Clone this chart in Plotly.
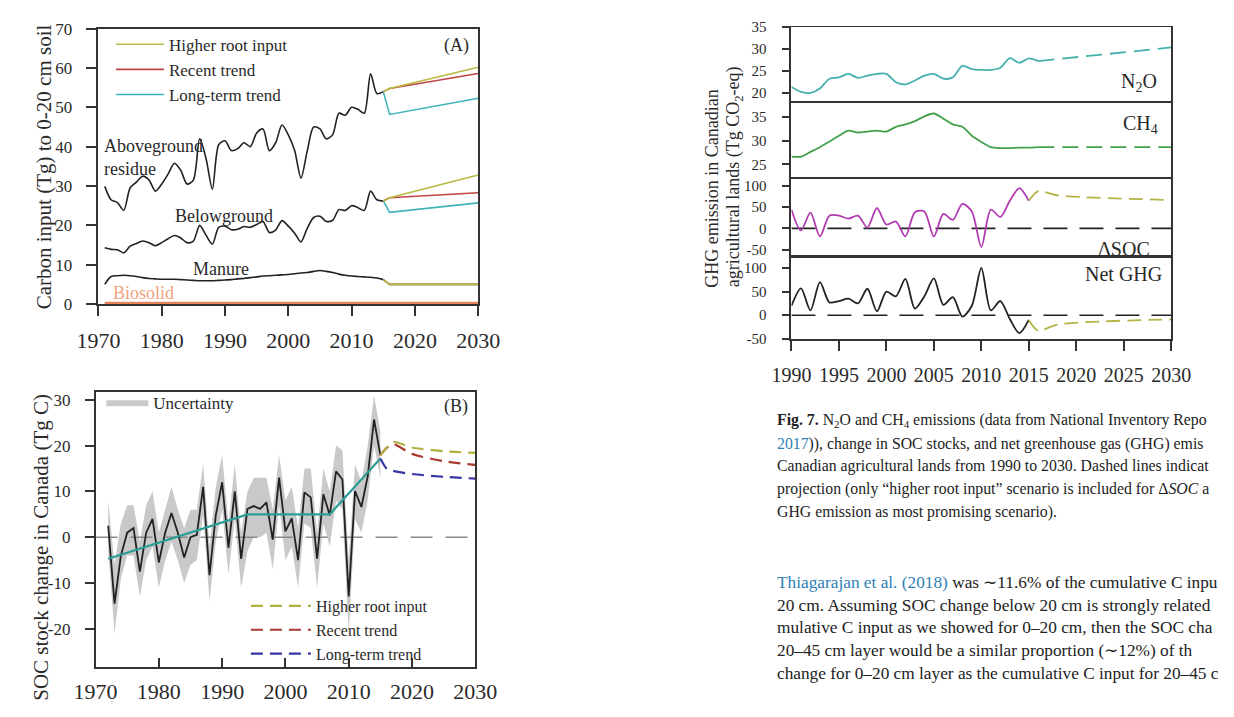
import plotly.graph_objects as go

W, H = 1234, 717
OFF = 8                      # page body margin of the html page
FW, FH = W - 2 * OFF, H - 2 * OFF
def px(x): return (x - OFF) / FW
def py(y): return 1 - (y - OFF) / FH

SERIF = "Liberation Serif, Times New Roman, serif"
AX = "#333333"

# ---------------- Panel A data ----------------
YEARS_A = list(range(1971, 2016))
ABOVE = [29.9, 26.5, 25.8, 23.8, 29.5, 31.0, 32.5, 31.5, 28.7, 30.5,
         33.0, 35.8, 34.0, 30.5, 31.5, 42.0, 37.0, 29.2, 40.5, 41.5,
         39.0, 39.5, 41.0, 40.0, 43.5, 44.5, 39.0, 41.0, 45.5, 43.0,
         39.0, 32.0, 39.0, 45.0, 44.5, 42.0, 43.0, 48.5, 48.0, 50.0,
         49.5, 48.5, 58.5, 53.5, 54.0]
BELOW = [14.3, 13.9, 13.8, 13.0, 14.7, 15.4, 16.0, 15.6, 14.8, 15.6,
         16.6, 17.4, 16.8, 15.6, 16.0, 20.0, 17.5, 15.2, 19.5, 19.8,
         18.9, 19.0, 19.7, 19.5, 20.2, 21.0, 18.2, 18.8, 21.2, 19.8,
         18.0, 15.8, 19.3, 22.0, 22.3, 21.0, 21.3, 24.0, 23.8, 25.0,
         24.5, 23.8, 28.7, 26.5, 26.2]
MANURE = [5.0, 7.0, 7.2, 7.3, 7.2, 7.0, 6.7, 6.5, 6.4, 6.3,
          6.3, 6.3, 6.2, 6.1, 6.0, 5.9, 5.9, 5.9, 6.0, 6.1,
          6.2, 6.4, 6.5, 6.7, 6.9, 7.1, 7.2, 7.3, 7.4, 7.5,
          7.7, 7.9, 8.0, 8.3, 8.5, 8.3, 8.0, 7.6, 7.3, 7.1,
          7.0, 6.9, 6.8, 6.6, 6.2]
BIOSOLID_YEARS = [1971, 2030]
BIOSOLID = [0.3, 0.3]

PROJ_YEARS_A = [2015, 2016, 2030]
ABOVE_HIGH = [54.0, 54.8, 60.2]
ABOVE_RECENT = [54.0, 54.8, 58.6]
ABOVE_LONG = [54.0, 48.2, 52.3]
BELOW_HIGH = [26.2, 27.0, 32.8]
BELOW_RECENT = [26.2, 27.0, 28.3]
BELOW_LONG = [26.2, 23.3, 25.7]
MANURE_HIGH = [6.2, 5.0, 5.0]
MANURE_RECENT = [6.2, 5.0, 5.0]
MANURE_LONG = [6.2, 5.0, 5.0]

# ---------------- Panel B data ----------------
YEARS_B = list(range(1972, 2016))
SOC = [2.5, -14.5, -4.0, 1.0, 2.0, -7.5, 1.0, 4.0, -5.5, 1.0,
       5.3, 1.0, -4.4, 0.0, 0.5, 11.0, -8.3, 4.8, 12.0, -2.3,
       10.0, -4.7, 6.2, 6.8, 6.2, 7.6, -0.5, 13.0, 1.3, 4.1,
       -5.0, 9.8, 8.7, -4.7, 9.4, 4.8, 14.4, 12.6, -12.9, 10.1,
       6.6, 13.3, 25.7, 17.9]
SOC_UPPER = [8, -6, 3, 7, 7, -1, 7, 10, 1, 6,
             11, 6, 2, 6, 6, 16, -2, 11, 18, 3,
             16, 1, 10, 13, 13, 13, 6, 18, 8, 11,
             2, 15, 15, 1, 15, 10, 20, 19, -5, 16,
             12, 20, 31, 23]
SOC_LOWER = [-3, -21, -9, -4, -4, -13, -5, -2, -11, -5,
             -1, -5, -10, -6, -5, 5, -14, -1, 6, -8,
             4, -11, -3, 0, 0, 1, -7, 7, -5, -2,
             -11, 3, 2, -11, 3, -2, 8, 6, -21, 4,
             1, 8, 20, 13]
TREND_YEARS = [1972, 1994, 2007, 2015]
TREND = [-4.7, 5.0, 5.0, 17.2]
PROJ_YEARS_B = [2015, 2016, 2017, 2020, 2025, 2030]
HIGH_B = [17.9, 19.5, 20.8, 19.6, 18.8, 18.4]
RECENT_B = [17.9, 19.5, 20.3, 18.2, 16.6, 15.8]
LONG_B = [17.2, 15.0, 14.5, 13.8, 13.2, 12.8]
ZERO_YEARS_B = [1970, 2030]
ZERO_B = [0, 0]

# ---------------- Fig. 7 data ----------------
YEARS_G = list(range(1990, 2017))
N2O = [21.3, 20.2, 20.0, 21.0, 23.2, 23.5, 24.3, 23.4, 23.9, 24.3,
       24.3, 22.4, 21.9, 22.8, 23.9, 24.3, 23.2, 23.5, 26.1, 25.4,
       25.2, 25.2, 25.7, 27.9, 26.8, 27.8, 27.2]
CH4 = [26.6, 26.6, 27.6, 28.6, 29.8, 31.0, 32.1, 31.7, 31.9, 32.1,
       31.9, 32.9, 33.4, 34.1, 35.1, 35.7, 34.6, 33.4, 32.9, 31.0,
       29.7, 28.6, 28.4, 28.4, 28.5, 28.5, 28.6]
PROJ_YEARS_G = [2016, 2030]
N2O_PROJ = [27.2, 30.3]
CH4_PROJ = [28.6, 28.6]
YEARS_S = list(range(1990, 2016))
DSOC = [44, -5, 37, -19, 30, 30, 23, 30, 2, 48,
        9, 16, -19, 38, 40, -19, 34, 20, 58, 40,
        -44, 44, 27, 65, 95, 65]
NET = [20, 57, 10, 70, 27, 30, 35, 25, 56, 8,
       50, 40, 77, 14, 40, 78, 22, 38, -3, 20,
       100, 10, 30, -8, -38, -10]
PROJ_YEARS_S = [2015, 2016, 2018, 2030]
DSOC_PROJ = [65, 88, 78, 67]
NET_PROJ = [-10, -33, -20, -9]
ZERO_YEARS_G = [1990, 2030]
ZERO_G = [0, 0]

C_HIGH = "#b9bb45"
C_RECENT = "#c04545"
C_LONG = "#3fb3b8"

fig = go.Figure()

def add(x, y, xa, ya, color, width=1.6, dash=None, shape="linear", name=None,
        legend=None, showlegend=False, rank=None):
    fig.add_trace(go.Scatter(
        x=x, y=y, xaxis=xa, yaxis=ya, mode="lines", name=name,
        line=dict(color=color, width=width, dash=dash, shape=shape,
                  smoothing=0.8 if shape == "spline" else None),
        showlegend=showlegend, legend=legend, legendrank=rank,
        hoverinfo="skip"))

# ---- Panel A ----
add(BIOSOLID_YEARS, BIOSOLID, "x", "y", "#e8845a", width=2.2)
add(YEARS_A, ABOVE, "x", "y", "#222", shape="spline")
add(YEARS_A, BELOW, "x", "y", "#222", shape="spline")
add(YEARS_A, MANURE, "x", "y", "#222", shape="spline")
for proj, col in [(MANURE_LONG, C_LONG), (MANURE_RECENT, C_RECENT), (MANURE_HIGH, C_HIGH)]:
    add(PROJ_YEARS_A, proj, "x", "y", col)
add(PROJ_YEARS_A, BELOW_LONG, "x", "y", C_LONG)
add(PROJ_YEARS_A, BELOW_RECENT, "x", "y", C_RECENT)
add(PROJ_YEARS_A, BELOW_HIGH, "x", "y", C_HIGH)
add(PROJ_YEARS_A, ABOVE_LONG, "x", "y", C_LONG, name="Long-term trend", legend="legend", showlegend=True, rank=3)
add(PROJ_YEARS_A, ABOVE_RECENT, "x", "y", C_RECENT, name="Recent trend", legend="legend", showlegend=True, rank=2)
add(PROJ_YEARS_A, ABOVE_HIGH, "x", "y", C_HIGH, name="Higher root input", legend="legend", showlegend=True, rank=1)

# ---- Panel B ----
fig.add_trace(go.Scatter(x=YEARS_B, y=SOC_LOWER, xaxis="x2", yaxis="y2", mode="lines",
                         line=dict(width=0, color="#c8c8c8"), showlegend=False, hoverinfo="skip"))
fig.add_trace(go.Scatter(x=YEARS_B, y=SOC_UPPER, xaxis="x2", yaxis="y2", mode="lines",
                         line=dict(width=0, color="#c8c8c8"), fill="tonexty",
                         fillcolor="#c9c9c9", name="Uncertainty", legend="legend2",
                         showlegend=True, hoverinfo="skip"))
add(ZERO_YEARS_B, ZERO_B, "x2", "y2", "#8a8a8a", width=1.6, dash="22px,13px")
add(YEARS_B, SOC, "x2", "y2", "#222", width=1.8)
add(TREND_YEARS, TREND, "x2", "y2", "#2a9e94", width=2.2)
add(PROJ_YEARS_B, LONG_B, "x2", "y2", "#3535a5", width=2.2, dash="12px,7px", shape="spline",
    name="Long-term trend", legend="legend3", showlegend=True, rank=3)
add(PROJ_YEARS_B, RECENT_B, "x2", "y2", "#a83a32", width=2.2, dash="12px,7px", shape="spline",
    name="Recent trend", legend="legend3", showlegend=True, rank=2)
add(PROJ_YEARS_B, HIGH_B, "x2", "y2", "#b3b042", width=2.2, dash="12px,7px", shape="spline",
    name="Higher root input", legend="legend3", showlegend=True, rank=1)

# ---- Fig. 7 ----
add(YEARS_G, N2O, "x3", "y3", "#45b1ad", width=1.8, shape="spline")
add(PROJ_YEARS_G, N2O_PROJ, "x3", "y3", "#45b1ad", width=1.8, dash="16px,8px")
add(YEARS_G, CH4, "x4", "y4", "#43a04a", width=1.8, shape="spline")
add(PROJ_YEARS_G, CH4_PROJ, "x4", "y4", "#43a04a", width=1.8, dash="16px,8px")
add(ZERO_YEARS_G, ZERO_G, "x5", "y5", "#222", width=1.6, dash="24px,12px")
add(YEARS_S, DSOC, "x5", "y5", "#b03cb0", width=1.8, shape="spline")
add(PROJ_YEARS_S, DSOC_PROJ, "x5", "y5", "#b5b448", width=1.8, dash="14px,7px", shape="spline")
add(ZERO_YEARS_G, ZERO_G, "x6", "y6", "#222", width=1.6, dash="24px,12px")
add(YEARS_S, NET, "x6", "y6", "#222", width=1.8, shape="spline")
add(PROJ_YEARS_S, NET_PROJ, "x6", "y6", "#b5b448", width=1.8, dash="14px,7px", shape="spline")

# ---------------- axes ----------------
def xax(domain, rng, anchor, tickvals=None, ticks="outside", ticklen=10, size=22,
        standoff=8, labels=True, lw=1.5):
    return dict(domain=domain, range=rng, anchor=anchor, showline=True, mirror=True,
                linecolor=AX, linewidth=lw, showgrid=False, zeroline=False,
                tickvals=tickvals if tickvals is not None else [], ticks=ticks if tickvals else "",
                ticklen=ticklen, tickwidth=1.5, tickcolor=AX, showticklabels=labels,
                tickfont=dict(family=SERIF, size=size, color="#2a2a2a"),
                ticklabelstandoff=standoff)

def yax(domain, rng, anchor, tickvals, ticktext=None, ticklen=10, size=17, standoff=10, lw=1.5):
    return dict(domain=domain, range=rng, anchor=anchor, showline=True, mirror=True,
                linecolor=AX, linewidth=lw, showgrid=False, zeroline=False,
                tickvals=tickvals, ticktext=ticktext if ticktext else [str(v) for v in tickvals],
                ticks="outside", ticklen=ticklen, tickwidth=1.5, tickcolor=AX,
                tickfont=dict(family=SERIF, size=size, color="#2a2a2a"),
                ticklabelstandoff=standoff)

DEC = [1970, 1980, 1990, 2000, 2010, 2020, 2030]
GX = [1990, 1995, 2000, 2005, 2010, 2015, 2020, 2025, 2030]
XD = [px(798), px(1192)]

layout = dict(
    width=FW, height=FH, margin=dict(l=0, r=0, t=0, b=0),
    paper_bgcolor="white", plot_bgcolor="white",
    font=dict(family=SERIF, color="#2a2a2a"),
    xaxis=xax([px(79), px(473)], [1970, 2030], "y", DEC, standoff=6),
    yaxis=yax([py(303), py(20)], [0, 70], "x", [0, 10, 20, 30, 40, 50, 60, 70], ticklen=11),
    xaxis2=xax([px(76), px(470)], [1970, 2030], "y2", DEC, ticks="inside", ticklen=9, standoff=4),
    yaxis2=yax([py(676), py(393)], [-28.3, 31.8], "x2", [-20, -10, 0, 10, 20, 30],
               ticktext=["-20", "-10", "0", "10", "20", "30"], ticklen=9, standoff=11),
    xaxis3=xax(XD, [1990, 2030], "y3", None, labels=False, lw=1.4),
    yaxis3=yax([py(95), py(18)], [18, 35], "x3", [20, 25, 30, 35], ticklen=8, size=15, standoff=12, lw=1.8),
    xaxis4=xax(XD, [1990, 2030], "y4", None, labels=False, lw=1.4),
    yaxis4=yax([py(173), py(95)], [22.2, 38.2], "x4", [25, 30, 35], ticklen=8, size=15, standoff=12, lw=1.8),
    xaxis5=xax(XD, [1990, 2030], "y5", None, labels=False, lw=1.4),
    yaxis5=yax([py(255), py(173)], [-68.4, 120], "x5", [-50, 0, 50, 100], ticktext=["-50", "0", "50", "100"],
               ticklen=8, size=15, standoff=12, lw=1.8),
    xaxis6=xax(XD, [1990, 2030], "y6", GX, ticklen=10, size=20, standoff=7, lw=1.8),
    yaxis6=yax([py(339), py(255)], [-50.5, 122.6], "x6", [-50, 0, 50, 100], ticktext=["-50", "0", "50", "100"],
               ticklen=8, size=15, standoff=12, lw=1.8),
    legend=dict(x=px(92), y=py(18), xanchor="left", yanchor="top", bgcolor="rgba(0,0,0,0)",
                font=dict(family=SERIF, size=17, color="#2a2a2a"), itemwidth=48,
                tracegroupgap=0, traceorder="normal"),
    legend2=dict(x=px(82), y=py(386), xanchor="left", yanchor="top", bgcolor="rgba(0,0,0,0)",
                 font=dict(family=SERIF, size=17, color="#2a2a2a"), itemwidth=42),
    legend3=dict(x=px(232), y=py(596), xanchor="left", yanchor="top", bgcolor="rgba(0,0,0,0)",
                 font=dict(family=SERIF, size=16, color="#2a2a2a"), itemwidth=60,
                 traceorder="normal"),
    showlegend=True,
)
fig.update_layout(**layout)

ann = []
def text(x, y, t, size=18, color="#2a2a2a", xanchor="center", angle=0, align="center"):
    ann.append(dict(x=px(x), y=py(y), xref="paper", yref="paper", text=t, showarrow=False,
                    xanchor=xanchor, yanchor="middle", textangle=angle, align=align,
                    font=dict(family=SERIF, size=size, color=color)))

# axis titles
text(22, 162, "Carbon input (Tg) to 0-20 cm soil", size=21, angle=-90)
text(20, 553, "SOC stock change in Canada (Tg C)", size=21, angle=-90)
text(716, 184, "GHG emission in Canadian", size=18, angle=-90)
text(739, 172, "agricultural lands (Tg CO<sub>2</sub>-eq)", size=18, angle=-90)

# panel labels
text(450, 37, "(A)", size=18)
text(450, 408, "(B)", size=18)
text(83, 152, "Aboveground<br>residue", size=18, xanchor="left", align="left")
text(209, 213, "Belowground", size=18)
text(206, 267, "Manure", size=18)
text(126, 292, "Biosolid", size=18, color="#f0a27e")
text(1159, 75, "N<sub>2</sub>O", size=20)
text(1160, 119, "CH<sub>4</sub>", size=20)
text(1143, 246, "ΔSOC", size=20)
text(1142, 272, "Net GHG", size=20)

# caption and body text
TEXT_X = 781
LINK = "#2f7fb5"
CAPTION = [
    "<b>Fig. 7.</b> N<sub>2</sub>O and CH<sub>4</sub> emissions (data from National Inventory Repo",
    f"<span style='color:{LINK}'>2017</span>)), change in SOC stocks, and net greenhouse gas (GHG) emis",
    "Canadian agricultural lands from 1990 to 2030. Dashed lines indicat",
    "projection (only “higher root input” scenario is included for Δ<i>SOC</i> a",
    "GHG emission as most promising scenario).",
]
for i, line in enumerate(CAPTION):
    text(TEXT_X, 423 + i * 23.5, line, size=15.8, color="#222", xanchor="left", align="left")

BODY = [
    f"<span style='color:{LINK}'>Thiagarajan et al. (2018)</span> was ∼11.6% of the cumulative C inpu",
    "20 cm. Assuming SOC change below 20 cm is strongly related",
    "mulative C input as we showed for 0–20 cm, then the SOC cha",
    "20–45 cm layer would be a similar proportion (∼12%) of th",
    "change for 0–20 cm layer as the cumulative C input for 20–45 c",
]
for i, line in enumerate(BODY):
    text(TEXT_X, 589 + i * 23.5, line, size=17.3, color="#222", xanchor="left", align="left")

fig.update_layout(annotations=ann)
fig.write_html("out.html")
